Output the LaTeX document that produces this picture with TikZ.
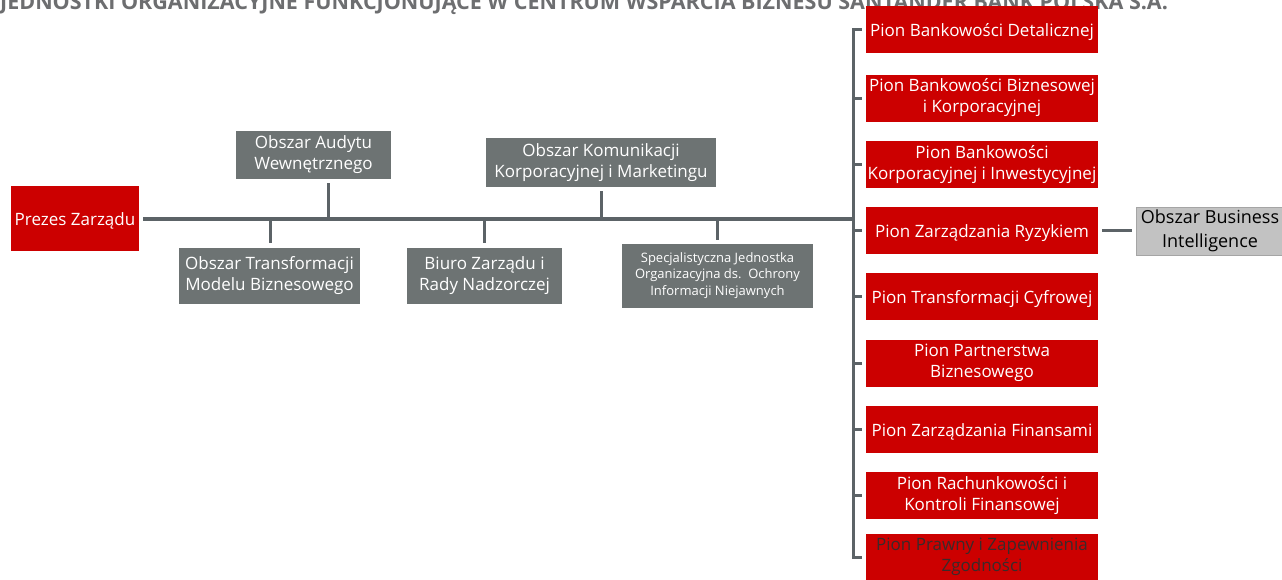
\documentclass[tikz,border=0pt]{standalone}
\usepackage{fontspec}
\setmainfont{Open Sans}
\definecolor{brandred}{HTML}{CC0000}
\definecolor{boxgrey}{HTML}{6D7373}
\definecolor{linegrey}{HTML}{5C6367}
\definecolor{lightgrey}{HTML}{C2C2C2}
\definecolor{titlegrey}{HTML}{6D6E70}
\definecolor{darktext}{HTML}{3B2A2A}

\begin{document}
\begin{tikzpicture}[x=1pt,y=-1pt,
  % fixed first-line height and last-line depth keep every label at the same optical height
  unit/.style={inner sep=0pt, align=center, font=\fontsize{17}{21}\selectfont,
    execute at begin node={\rule{0pt}{18pt}},
    execute at end node={\rule[-4.5pt]{0pt}{4.5pt}}},
  redunit/.style={unit, fill=brandred, text=white},
  greyunit/.style={unit, fill=boxgrey, text=white},
  pion/.style={redunit, minimum width=232pt, minimum height=47pt},
  link/.style={draw=linegrey, line width=3pt},
  trunk/.style={draw=linegrey, line width=3.6pt},
]
\useasboundingbox (0,0) rectangle (1282,579);

% heading (its upper part runs off the page)
\node[anchor=base west, inner sep=0pt, text=titlegrey,
      font=\bfseries\fontsize{21.5}{21.5}\selectfont] (title) at (0,9)
  {JEDNOSTKI ORGANIZACYJNE FUNKCJONUJĄCE W CENTRUM WSPARCIA BIZNESU SANTANDER BANK POLSKA S.A.};

% president
\node[redunit, minimum width=128pt, minimum height=65pt] (prezes) at (75,218.5) {Prezes Zarządu};

% units along the main line
\node[greyunit, minimum width=155pt, minimum height=48pt] (audyt) at (313.5,155) {Obszar Audytu\\Wewnętrznego};
\node[greyunit, minimum width=230pt, minimum height=49pt] (komunik) at (601,162.5) {Obszar Komunikacji\\Korporacyjnej i Marketingu};
\node[greyunit, minimum width=181pt, minimum height=56pt] (transf) at (269.5,276) {Obszar Transformacji\\Modelu Biznesowego};
\node[greyunit, minimum width=155pt, minimum height=56pt] (biuro) at (484.5,276) {Biuro Zarządu i\\Rady Nadzorczej};
\node[greyunit, minimum width=191pt, minimum height=64pt,
      font=\fontsize{13}{16.5}\selectfont,
      execute at begin node={\rule{0pt}{13.5pt}},
      execute at end node={\rule[-3.5pt]{0pt}{3.5pt}}] (specj) at (717.5,276)
  {Specjalistyczna Jednostka\\Organizacyjna ds.\ \ Ochrony\\Informacji Niejawnych};

% divisions
\node[pion] (p1) at (982,29.5)  {Pion Bankowości Detalicznej};
\node[pion] (p2) at (982,98)    {Pion Bankowości Biznesowej\\i Korporacyjnej};
\node[pion] (p3) at (982,164.5) {Pion Bankowości\\Korporacyjnej i Inwestycyjnej};
\node[pion] (p4) at (982,230.5) {Pion Zarządzania Ryzykiem};
\node[pion] (p5) at (982,296.5) {Pion Transformacji Cyfrowej};
\node[pion] (p6) at (982,363)   {Pion Partnerstwa\\Biznesowego};
\node[pion] (p7) at (982,429.5) {Pion Zarządzania Finansami};
\node[pion] (p8) at (982,495.5) {Pion Rachunkowości i\\Kontroli Finansowej};
\node[pion, text=darktext] (p9) at (982,557.5) {Pion Prawny i Zapewnienia\\Zgodności};

% area under risk management
\node[unit, fill=lightgrey, draw=lightgrey!85!black, line width=0.6pt, text=black,
      minimum width=148pt, minimum height=48pt,
      font=\fontsize{18}{24}\selectfont] (bi) at (1210,231) {Obszar Business\\Intelligence};

% main line and the right-hand spine
\coordinate (hub) at (853,219);
\draw[trunk, shorten <=4pt] (prezes.east |- hub) -- (hub);
\draw[link, shorten <=4pt, shorten >=4pt]
  (p1.west) -- (hub |- p1.west) -- (hub |- p9.west) -- (p9.west);
\foreach \n in {p2,p3,p4,p5,p6,p7,p8}
  \draw[link, shorten >=4pt] (hub |- \n.west) -- (\n.west);

% stubs above and below the main line
\draw[link, shorten <=4pt] ([xshift=14.5pt]audyt.south) -- ([xshift=14.5pt]audyt.south |- hub);
\draw[link, shorten <=4pt] (komunik.south) -- (komunik.south |- hub);
\draw[link, shorten <=5pt] ([xshift=0.5pt]transf.north) -- ([xshift=0.5pt]transf.north |- hub);
\draw[link, shorten <=5pt] ([xshift=-0.5pt]biuro.north) -- ([xshift=-0.5pt]biuro.north |- hub);
\draw[link, shorten <=4pt] ([xshift=-0.5pt]specj.north) -- ([xshift=-0.5pt]specj.north |- hub);

% risk management to business intelligence
\draw[draw=linegrey, line width=2.4pt, shorten <=4pt, shorten >=4pt] (p4.east) -- (bi.west |- p4.east);
\end{tikzpicture}
\end{document}
